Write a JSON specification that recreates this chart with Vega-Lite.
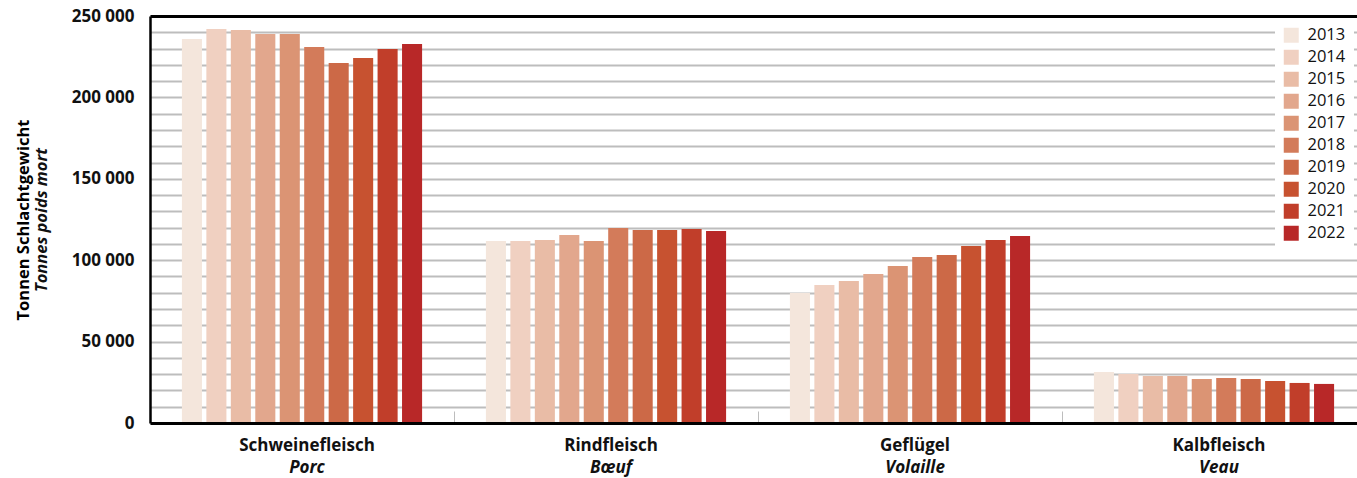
{
  "$schema": "https://vega.github.io/schema/vega-lite/v6.json",
  "width": 1207,
  "height": 407,
  "autosize": {"type": "none"},
  "padding": {"left": 150, "top": 16, "right": 0, "bottom": 55},
  "config": {"view": {"stroke": null}, "font": "Open Sans", "bar": {"stroke": null}},
  "data": {"values": [
    {"cat": "Schweinefleisch", "year": "2013", "t": 235900},
    {"cat": "Schweinefleisch", "year": "2014", "t": 242000},
    {"cat": "Schweinefleisch", "year": "2015", "t": 241400},
    {"cat": "Schweinefleisch", "year": "2016", "t": 238900},
    {"cat": "Schweinefleisch", "year": "2017", "t": 238900},
    {"cat": "Schweinefleisch", "year": "2018", "t": 230900},
    {"cat": "Schweinefleisch", "year": "2019", "t": 221100},
    {"cat": "Schweinefleisch", "year": "2020", "t": 224200},
    {"cat": "Schweinefleisch", "year": "2021", "t": 229700},
    {"cat": "Schweinefleisch", "year": "2022", "t": 232800},
    {"cat": "Rindfleisch", "year": "2013", "t": 111800},
    {"cat": "Rindfleisch", "year": "2014", "t": 111800},
    {"cat": "Rindfleisch", "year": "2015", "t": 112400},
    {"cat": "Rindfleisch", "year": "2016", "t": 115500},
    {"cat": "Rindfleisch", "year": "2017", "t": 111800},
    {"cat": "Rindfleisch", "year": "2018", "t": 119800},
    {"cat": "Rindfleisch", "year": "2019", "t": 118600},
    {"cat": "Rindfleisch", "year": "2020", "t": 118600},
    {"cat": "Rindfleisch", "year": "2021", "t": 119200},
    {"cat": "Rindfleisch", "year": "2022", "t": 117900},
    {"cat": "Geflügel", "year": "2013", "t": 79900},
    {"cat": "Geflügel", "year": "2014", "t": 84800},
    {"cat": "Geflügel", "year": "2015", "t": 87200},
    {"cat": "Geflügel", "year": "2016", "t": 91500},
    {"cat": "Geflügel", "year": "2017", "t": 96400},
    {"cat": "Geflügel", "year": "2018", "t": 102000},
    {"cat": "Geflügel", "year": "2019", "t": 103200},
    {"cat": "Geflügel", "year": "2020", "t": 108700},
    {"cat": "Geflügel", "year": "2021", "t": 112400},
    {"cat": "Geflügel", "year": "2022", "t": 114900},
    {"cat": "Kalbfleisch", "year": "2013", "t": 31300},
    {"cat": "Kalbfleisch", "year": "2014", "t": 30100},
    {"cat": "Kalbfleisch", "year": "2015", "t": 28900},
    {"cat": "Kalbfleisch", "year": "2016", "t": 28900},
    {"cat": "Kalbfleisch", "year": "2017", "t": 27000},
    {"cat": "Kalbfleisch", "year": "2018", "t": 27600},
    {"cat": "Kalbfleisch", "year": "2019", "t": 27000},
    {"cat": "Kalbfleisch", "year": "2020", "t": 25800},
    {"cat": "Kalbfleisch", "year": "2021", "t": 24600},
    {"cat": "Kalbfleisch", "year": "2022", "t": 24000}
  ]},
  "layer": [
    {
      "mark": {"type": "bar", "opacity": 0},
      "encoding": {
        "x": {"field": "cat", "type": "nominal", "sort": ["Schweinefleisch", "Rindfleisch", "Geflügel", "Kalbfleisch"],
          "scale": {"paddingInner": 0.049, "paddingOuter": 0.0245, "range": [0, 1216]},
          "axis": {"orient": "bottom", "title": null, "domain": false, "ticks": false, "labelPadding": 36, "labelAngle": 0, "labelOffset": 5,
            "labelExpr": "datum.value == 'Schweinefleisch' ? 'Porc' : datum.value == 'Rindfleisch' ? 'Bœuf' : datum.value == 'Geflügel' ? 'Volaille' : 'Veau'",
            "labelFontSize": 17, "labelFontWeight": "bold", "labelFontStyle": "italic", "labelColor": "#111111", "zindex": 1}},
        "xOffset": {"field": "year", "type": "nominal", "scale": {"paddingInner": 0.18, "paddingOuter": 1}},
        "y": {"field": "t", "type": "quantitative", "scale": {"domain": [0, 250000], "nice": false},
          "axis": {"orient": "left", "grid": true, "values": [0,10000,20000,30000,40000,50000,60000,70000,80000,90000,100000,110000,120000,130000,140000,150000,160000,170000,180000,190000,200000,210000,220000,230000,240000,250000],
            "gridColor": "#bdbdbd", "gridWidth": 2, "labels": false, "ticks": false, "domain": false,
            "title": "Tonnes poids mort", "titleFontStyle": "italic", "titleFontWeight": "bold", "titleFontSize": 16.5, "titleColor": "#111111", "titlePadding": 101, "zindex": 0}}
      }
    },
    {
      "mark": {"type": "bar", "opacity": 0},
      "encoding": {
        "x": {"field": "cat", "type": "nominal", "sort": ["Schweinefleisch", "Rindfleisch", "Geflügel", "Kalbfleisch"],
          "axis": {"orient": "bottom", "title": null, "domain": false, "labels": false, "ticks": true, "bandPosition": -0.0257, "tickSize": -12, "tickColor": "#bdbdbd", "tickWidth": 1, "zindex": 1}},
        "xOffset": {"field": "year", "type": "nominal"},
        "y": {"field": "t", "type": "quantitative", "axis": null}
      }
    },
    {
      "mark": {"type": "bar"},
      "encoding": {
        "x": {"field": "cat", "type": "nominal", "sort": ["Schweinefleisch", "Rindfleisch", "Geflügel", "Kalbfleisch"],
          "axis": {"orient": "bottom", "title": null, "domain": true, "domainColor": "#000000", "domainWidth": 3, "ticks": false, "labelPadding": 14, "labelAngle": 0, "labelOffset": 5,
            "labelFontSize": 17, "labelFontWeight": "bold", "labelColor": "#111111", "zindex": 1}},
        "xOffset": {"field": "year", "type": "nominal"},
        "y": {"field": "t", "type": "quantitative",
          "axis": {"orient": "left", "grid": false, "values": [0, 50000, 100000, 150000, 200000, 250000], "ticks": false, "domain": true, "domainColor": "#000000", "domainWidth": 2.5,
            "labelExpr": "replace(format(datum.value, ','), ',', ' ')", "labelFontSize": 17, "labelFontWeight": "bold", "labelColor": "#111111", "labelPadding": 16,
            "title": "Tonnen Schlachtgewicht", "titleFontWeight": "bold", "titleFontSize": 16.5, "titleColor": "#000000", "titlePadding": 40, "zindex": 1}},
        "color": {"field": "year", "type": "nominal",
          "scale": {"domain": ["2013","2014","2015","2016","2017","2018","2019","2020","2021","2022"],
            "range": ["#F4E6DC","#F0D0C1","#E9BCA6","#E2A78D","#DB9474","#D37B5A","#CC6947","#C75230","#C13E2A","#B82828"]},
          "legend": {"orient": "top-right", "offset": 3, "title": null, "symbolType": "square", "symbolSize": 225, "symbolStrokeWidth": 0, "symbolOpacity": 1,
            "labelFontSize": 16.5, "labelColor": "#111111", "fillColor": "white", "padding": 8, "rowPadding": 5, "labelOffset": 8}}
      }
    },
    {
      "mark": {"type": "bar", "opacity": 0},
      "encoding": {
        "x": {"field": "cat", "type": "nominal", "sort": ["Schweinefleisch", "Rindfleisch", "Geflügel", "Kalbfleisch"],
          "axis": {"orient": "top", "title": null, "domain": true, "domainColor": "#000000", "domainWidth": 3, "labels": false, "ticks": false, "zindex": 1}},
        "xOffset": {"field": "year", "type": "nominal"},
        "y": {"field": "t", "type": "quantitative", "axis": null}
      }
    }
  ],
  "resolve": {"axis": {"x": "independent", "y": "independent"}}
}
